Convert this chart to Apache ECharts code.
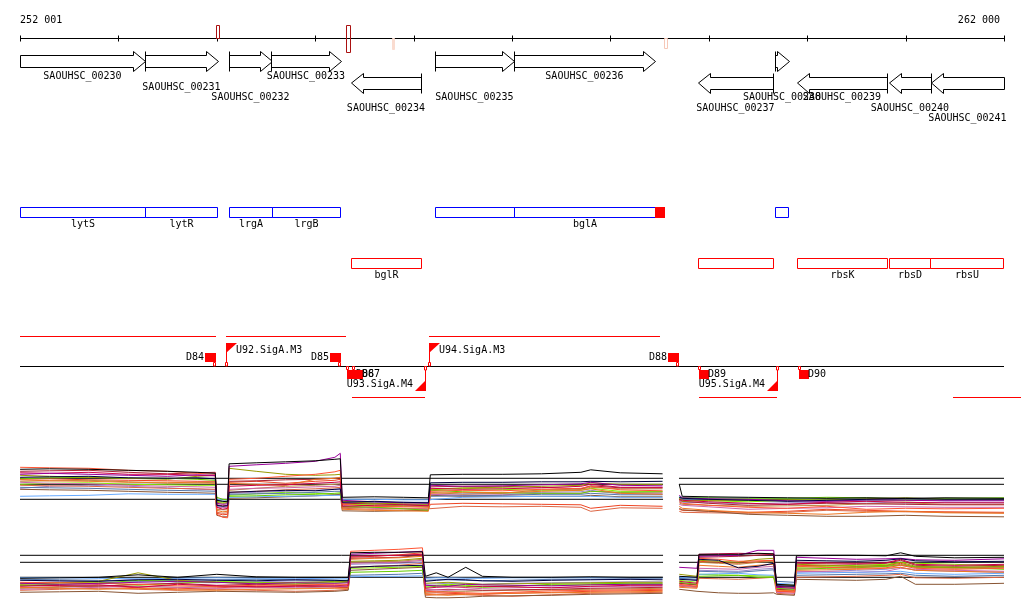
<!DOCTYPE html>
<html><head><meta charset="utf-8">
<script src="https://cdn.jsdelivr.net/npm/echarts@6/dist/echarts.min.js"></script>
<style>html,body{margin:0;padding:0;background:#fff}#c{width:1024px;height:611px}</style>
</head><body><div id="c"></div>
<script>
// ---------------- data ----------------
const viewRange = [252000, 262000];
const rulerTicks = [252000,253000,254000,255000,256000,257000,258000,259000,260000,261000,262000];
const rulerLabels = [[252001,'252 001','left'],[262000,'262 000','right']];
// [start, end, kind]
const siteMarks = [[253992,254019,'above'],[255313,255351,'across'],[255780,255801,'belowFill'],[258545,258572,'below']];
// [name, start, end, strand, labelRow]
const genes = [
  ['SAOUHSC_00230',251800,253270, 1,0],
  ['SAOUHSC_00231',253270,254012, 1,1],
  ['SAOUHSC_00232',254124,254561, 1,2],
  ['SAOUHSC_00233',254551,255262, 1,0],
  ['SAOUHSC_00234',255364,256075,-1,3],
  ['SAOUHSC_00235',256217,257020, 1,2],
  ['SAOUHSC_00236',257020,258453, 1,0],
  ['SAOUHSC_00237',258890,259652,-1,3],
  ['SAOUHSC_00238',259673,259815, 1,2],
  ['SAOUHSC_00239',259896,260811,-1,2],
  ['SAOUHSC_00240',260831,261258,-1,3],
  ['SAOUHSC_00241',261258,262300,-1,4]
];
// [start, end, name]
const blueFeatures = [[252000,253270,'lytS'],[253270,254002,'lytR'],[254124,254561,'lrgA'],[254561,255255,'lrgB'],[256217,257020,''],[257020,258453,'bglA'],[259673,259805,'']];
const blueFilled = [[258453,258545]];
const redFeatures = [[255364,256075,'bglR'],[258890,259652,''],[259896,260811,'rbsK'],[260831,261248,'rbsD'],[261248,261990,'rbsU']];
// transcripts [start, end]
const upperTranscripts = [[252000,253992],[254093,255313],[256156,258504]];
const lowerTranscripts = [[255375,256116],[258900,259693],[261482,262173]];
// [position, strand, name]
const terminators = [[253992,1,'D84'],[255262,1,'D85'],[255323,-1,'D86'],[255384,-1,'D87'],[258702,1,'D88'],[258900,-1,'D89'],[259917,-1,'D90']];
const promoters = [[254093,1,'U92.SigA.M3'],[256116,-1,'U93.SigA.M4'],[256156,1,'U94.SigA.M3'],[259693,-1,'U95.SigA.M4']];

// expression panels
const panelSegments = [[252000,258535],[258697,262000]];
const refLevels1 = [9.2, 8, 5];
const refLevels2 = [9.4, 8, 5];
const exprX1 = [252001,252300,252700,253100,253500,253800,253985, 254000,254060,254110, 254125,254400,254700,255000,255200,255255, 255275,255600,255900,256150, 256170,256500,256900,257300,257700,257800,258100,258530, 258600, 258700,258730,259000,259400,259800,260200,260600,261000,261400,262000];
const exprX2 = [252001,252400,252800,253200,253600,254000,254400,254800,255200,255335, 255360,255600,255850,256090, 256120,256230,256350,256530,256700,257000,257400,257800,258200,258530, 258600, 258700,258880, 258900,259100,259300,259500,259660, 259690,259870, 259890,260200,260500,260800,260950,261100,261500,262000];
const lineColors = ['#000000','#000040','#990099','#cc0044','#ff5533','#ee7722','#999900','#66cc00','#5577aa','#66aaff','#cc66aa','#885533','#dd6644','#aa2233','#bb8844','#88ee00','#9988cc','#ee4422'];
const expr1 = [
 [11.0,11.1,11.0,10.8,10.6,10.4,10.2, 4.8,4.6,4.5, 12.1,12.3,12.5,12.7,13.0,13.1, 5.4,5.5,5.4,5.3, 9.9,10.0,10.0,10.1,10.4,10.9,10.3,10.1, null, 8.0,5.6,5.5,5.4,5.3,5.2,5.3,5.2,5.3,5.2],
 [9.4,9.5,9.6,9.3,9.2,9.3,9.1, 3.8,3.6,3.7, 6.4,6.6,6.8,6.7,7.0,7.1, 4.4,4.6,4.4,4.3, 8.3,8.4,8.4,8.5,8.5,8.6,8.5,8.6, null, 5.4,5.2,5.0,4.8,4.6,4.8,5.0,5.2,5.0,5.0],
 [10.0,10.2,10.0,9.8,9.6,9.9,9.8, 4.2,4.0,4.1, 11.6,11.9,12.2,12.6,13.4,14.2, 4.8,4.5,4.3,4.2, 7.8,7.6,7.7,7.9,8.1,8.4,7.8,7.7, null, 5.8,5.3,5.1,5.0,4.7,4.6,4.9,4.8,4.7,4.7],
 [10.3,10.2,10.4,10.0,10.0,9.8,9.7, 3.4,3.0,3.2, 7.6,7.8,7.9,8.2,8.4,8.5, 3.6,3.8,3.9,3.7, 7.2,7.0,7.1,7.3,7.6,8.0,7.4,7.4, null, 5.0,4.8,4.5,4.2,4.0,4.4,4.6,4.4,4.3,4.3],
 [11.4,11.3,11.2,10.8,10.6,10.2,10.0, 2.0,1.4,1.3, 9.0,9.2,9.6,10.0,10.5,10.8, 4.0,3.6,3.5,3.4, 6.6,6.8,6.7,7.0,7.2,7.6,6.9,6.7, null, 4.5,4.2,3.8,3.4,3.2,3.6,3.0,3.2,3.1,3.2],
 [8.9,8.7,8.6,8.4,8.4,8.3,8.2, 2.8,2.5,2.6, 8.2,8.0,7.8,9.0,9.2,9.4, 3.0,2.8,2.7,2.6, 6.2,6.4,6.3,6.6,6.8,7.1,6.2,6.0, null, 3.6,3.2,2.8,2.4,2.2,2.0,2.4,2.6,2.3,2.2],
 [9.8,9.6,9.4,9.2,9.0,9.6,9.8, 4.4,4.2,4.3, 11.2,10.6,10.0,9.8,9.9,10.0, 4.6,4.2,4.1,4.0, 7.0,7.3,7.4,7.6,7.8,8.3,8.0,8.0, null, 5.2,4.6,4.8,4.8,4.9,4.9,5.1,5.3,5.0,5.0],
 [9.1,9.3,9.4,9.2,9.2,9.0,8.8, 5.4,5.0,4.9, 5.6,5.7,5.9,6.0,6.2,6.3, 3.6,3.4,3.1,2.8, 6.8,6.5,6.3,6.2,6.2,6.6,6.4,6.5, null, 5.4,5.3,5.3,5.2,5.2,5.4,5.3,5.1,5.2,5.3],
 [7.4,7.3,7.2,7.0,6.8,6.7,6.6, 4.8,4.6,4.7, 6.0,6.1,6.2,6.4,6.6,6.6, 4.6,4.3,4.4,4.4, 5.6,5.7,5.8,6.0,6.0,6.2,5.9,5.9, null, 5.3,5.0,4.9,4.9,4.7,4.7,4.8,4.9,4.8,4.8],
 [5.6,5.7,5.8,6.1,6.0,6.0,6.0, 5.0,4.9,4.9, 5.4,5.5,5.6,5.7,5.8,5.8, 5.0,5.0,4.9,4.9, 5.3,5.4,5.5,5.6,5.6,5.6,5.4,5.4, null, 5.6,5.4,5.3,5.3,5.2,5.0,5.1,5.2,5.1,5.1],
 [8.4,8.2,8.1,7.8,7.6,7.5,7.4, 3.4,3.3,3.4, 7.0,7.2,7.3,7.5,7.6,7.8, 3.8,3.2,3.1,3.0, 6.0,5.8,5.9,6.2,6.2,6.6,6.3,6.3, null, 4.0,3.8,3.5,3.0,3.2,3.3,3.6,3.5,3.4,3.4],
 [7.0,6.9,6.8,6.6,6.4,6.3,6.2, 1.8,1.5,1.5, 5.2,5.3,5.5,5.7,5.9,6.0, 2.7,2.6,2.7,2.8, 5.8,5.6,5.6,5.6,5.6,5.8,5.5,5.5, null, 3.2,2.9,2.6,2.0,1.8,1.6,1.6,1.8,1.6,1.5],
 [7.8,7.7,7.6,7.4,7.2,7.1,7.0, 2.4,2.2,2.3, 6.4,6.6,6.9,7.1,7.3,7.4, 3.2,3.0,3.1,3.1, 3.4,3.6,3.5,3.6,3.4,2.6,3.3,3.2, null, 2.6,2.4,2.3,2.2,2.4,2.8,2.6,2.5,2.4,2.3],
 [10.6,10.7,10.8,10.4,10.1,10.3,10.4, 3.9,3.7,3.8, 8.6,8.7,8.9,9.0,9.2,9.3, 4.2,4.1,3.9,3.8, 7.5,7.6,7.6,7.4,7.1,7.7,7.3,7.3, null, 4.8,4.6,4.2,3.8,4.0,4.2,4.1,4.0,3.9,3.9],
 [8.6,8.7,8.8,8.5,8.2,8.3,8.4, 3.0,2.9,2.9, 6.8,7.2,7.6,7.8,8.0,8.1, 3.3,3.5,3.6,3.6, 6.4,6.0,6.2,6.9,7.0,7.4,7.1,7.1, null, 4.3,4.0,3.8,3.6,3.7,3.8,4.1,4.3,4.0,4.0],
 [8.0,8.2,8.3,8.0,7.9,7.8,7.8, 4.6,4.4,4.5, 5.8,6.1,6.4,6.2,6.0,6.1, 4.0,3.9,3.7,3.5, 6.9,7.2,7.0,6.8,6.8,7.2,6.6,6.6, null, 5.0,4.9,4.7,4.5,4.8,5.1,4.9,4.7,4.9,4.9],
 [7.2,7.6,7.8,7.6,7.3,7.0,6.9, 3.6,3.4,3.5, 6.2,6.4,6.6,6.8,7.0,7.0, 4.4,4.2,4.0,3.9, 6.0,6.1,6.2,6.4,6.5,6.8,6.1,6.1, null, 4.6,4.4,4.3,4.1,4.3,4.4,4.5,4.2,4.4,4.3],
 [9.0,9.1,8.9,8.8,8.7,8.6,8.6, 2.2,1.9,2.0, 8.4,8.6,8.2,8.6,8.8,9.0, 3.4,3.3,3.2,3.0, 4.0,4.2,4.1,4.0,3.9,3.2,3.8,3.6, null, 3.0,2.8,2.6,2.4,2.6,3.0,2.8,2.6,2.5,2.4]
];
const expr2 = [
 [4.8,4.9,5.0,5.5,5.0,5.6,5.1,5.0,5.0,5.0, 9.9,10.0,10.0,10.1, 5.2,5.9,5.0,7.0,5.2,5.0,5.0,5.1,5.0,5.0, null, 5.2,5.0, 9.6,9.6,9.6,9.8,9.7, 3.6,3.4, 9.3,9.4,9.4,9.3,9.9,9.2,8.9,9.0],
 [4.4,4.3,4.2,4.5,4.6,4.4,4.3,4.5,4.4,4.3, 7.0,7.2,7.3,7.4, 4.2,4.4,4.6,4.5,4.3,4.2,4.4,4.5,4.6,4.5, null, 4.6,4.4, 8.6,8.4,6.9,7.2,7.8, 3.3,3.2, 8.4,8.3,8.2,8.4,8.7,8.3,8.1,8.2],
 [3.8,3.6,3.8,4.0,4.2,4.0,3.7,3.9,3.8,3.9, 9.6,9.8,10.0,10.2, 3.4,3.3,3.2,3.6,3.5,3.4,3.3,3.5,3.6,3.6, null, 7.0,6.8, 9.2,9.3,9.4,10.4,10.4, 3.0,2.8, 9.0,8.8,8.6,8.7,8.8,8.5,8.4,8.7],
 [3.2,3.4,3.5,3.0,3.6,3.3,3.1,3.2,3.3,3.3, 9.2,9.3,9.4,9.6, 2.8,3.0,3.1,3.0,3.2,3.1,2.9,3.2,3.4,3.4, null, 4.2,3.8, 9.6,9.7,9.8,9.7,9.6, 3.2,3.0, 8.0,7.9,7.8,7.9,8.6,7.6,7.4,7.6],
 [4.0,3.9,3.8,3.6,3.3,3.2,3.4,3.5,3.6,3.6, 10.2,10.4,10.6,10.9, 2.2,2.1,2.0,1.9,1.8,2.0,2.3,2.4,2.5,2.6, null, 3.6,3.2, 8.8,8.6,8.2,8.3,8.4, 2.2,2.0, 7.2,7.0,6.8,6.9,7.4,6.8,6.6,6.8],
 [3.0,2.8,2.6,2.8,2.5,2.4,2.6,2.7,2.8,2.8, 8.6,8.8,8.9,9.2, 1.6,1.5,1.4,1.6,1.7,1.8,1.9,2.0,2.1,2.2, null, 3.0,2.8, 7.4,7.2,7.0,7.4,7.6, 2.4,2.3, 6.4,6.5,6.6,6.8,7.0,6.4,6.2,6.0],
 [3.6,3.9,4.2,5.9,4.4,4.0,3.8,4.0,4.1,4.2, 8.2,8.3,8.4,8.8, 3.8,3.9,4.0,3.8,3.6,3.7,3.8,3.9,4.0,4.0, null, 5.6,5.2, 8.4,8.2,8.0,8.6,8.8, 3.6,3.4, 7.6,7.4,7.2,7.4,8.0,7.2,7.0,7.2],
 [3.4,3.6,3.8,4.4,4.2,4.0,3.8,3.6,4.2,4.4, 6.0,6.1,6.2,6.4, 3.0,3.2,3.4,3.2,3.0,3.2,3.6,3.7,3.8,3.8, null, 4.0,3.6, 5.2,5.3,5.4,5.0,5.0, 2.8,2.6, 6.6,6.8,6.9,7.2,7.4,7.1,7.0,6.6],
 [4.6,4.5,4.4,4.2,4.4,4.5,4.6,4.5,4.4,4.4, 5.4,5.5,5.6,5.8, 4.4,4.5,4.5,4.4,4.3,4.4,4.6,4.6,4.7,4.7, null, 4.8,4.6, 6.2,6.1,6.0,6.3,6.5, 4.2,4.0, 5.4,5.5,5.6,5.7,5.8,5.4,5.2,5.4],
 [4.9,4.9,4.8,4.7,4.8,4.9,4.8,4.8,4.7,4.7, 5.1,5.2,5.2,5.3, 4.8,4.9,4.9,4.8,4.8,4.9,4.9,4.9,4.9,4.9, null, 5.0,4.9, 5.6,5.7,5.8,5.5,5.4, 3.8,3.6, 5.8,5.9,6.0,6.1,6.2,5.8,5.6,5.8],
 [2.6,2.8,3.0,3.2,3.0,2.8,2.9,3.0,3.1,3.2, 7.8,7.9,8.0,8.4, 2.6,2.5,2.4,2.6,2.8,2.9,3.0,3.1,3.2,3.2, null, 3.4,3.0, 6.8,6.7,6.6,7.0,7.2, 2.0,1.8, 6.2,6.1,6.0,6.2,6.8,6.6,6.4,6.2],
 [2.0,2.1,2.2,1.8,2.0,2.2,2.1,2.0,2.2,2.4, 6.4,6.6,6.8,7.0, 1.0,0.9,0.9,1.0,1.2,1.3,1.4,1.6,1.7,1.8, null, 2.6,2.2, 2.0,1.9,1.8,1.8,1.9, 1.6,1.4, 4.6,4.5,4.4,4.6,5.2,3.6,3.6,3.8],
 [2.4,2.6,2.8,2.6,2.4,2.6,2.4,2.2,2.4,2.6, 7.0,7.2,7.4,7.8, 1.4,1.5,1.6,1.5,1.4,1.2,1.5,1.8,1.9,2.0, null, 3.2,3.0, 4.8,4.7,4.6,4.8,5.0, 1.8,1.6, 5.0,5.1,5.2,5.4,5.6,4.9,4.8,5.0],
 [3.4,3.3,3.2,3.6,3.8,3.4,3.6,3.4,3.2,3.0, 8.8,8.9,9.0,9.4, 2.4,2.5,2.6,2.5,2.4,2.5,2.6,2.8,2.9,3.0, null, 3.8,3.5, 9.0,9.1,9.2,9.4,9.6, 2.6,2.4, 7.8,7.7,7.6,7.8,8.4,7.4,7.2,7.4],
 [2.8,3.0,3.4,3.2,3.0,3.2,3.0,2.8,3.2,3.6, 8.0,8.1,8.2,8.6, 2.0,2.1,2.2,2.2,2.3,2.4,2.5,2.6,2.7,2.8, null, 3.8,3.4, 8.0,7.8,7.6,8.0,8.2, 2.6,2.4, 6.8,6.9,7.0,7.2,7.6,7.0,6.8,7.0],
 [3.8,3.9,4.0,3.4,3.8,4.2,4.0,3.8,3.9,4.0, 6.8,6.9,7.0,7.2, 3.2,3.4,3.6,3.4,3.2,3.3,3.4,3.5,3.6,3.6, null, 4.4,4.0, 5.6,5.5,5.4,5.3,5.2, 3.0,2.8, 7.0,7.2,7.4,7.6,8.0,7.8,7.6,7.2],
 [3.9,4.1,4.2,4.6,4.0,3.9,4.1,4.3,4.2,4.0, 7.6,7.7,7.8,8.0, 3.6,3.7,3.8,3.7,3.6,3.8,3.9,4.0,4.1,4.1, null, 4.8,4.4, 6.4,6.3,6.2,6.6,6.8, 3.4,3.2, 6.0,6.2,6.4,6.6,7.0,6.4,6.2,6.0],
 [2.9,3.1,3.3,2.9,2.7,2.9,3.2,3.3,3.0,2.9, 9.0,9.2,9.5,9.9, 1.8,1.9,1.8,1.7,1.6,1.8,2.0,2.2,2.3,2.4, null, 3.4,3.1, 8.2,8.0,7.8,8.1,8.4, 2.2,2.1, 7.4,7.3,7.2,7.3,7.8,7.0,6.9,7.0]
];

// ---------------- layout & style ----------------
const FONT = '10px "DejaVu Sans Mono", monospace';
const RED = '#ff0000', BLUE = '#0000ff';
const LAY = {
  rulerY: 38.5, rulerLabelY: 20.5,
  fwdY: 61.5, revY: 83, bodyH: 6.5, headH: 10.5, headLen: 12, geneLabelY0: 76.5, geneLabelStep: 10.5,
  blueY: 207.5, redY: 258.5, boxH: 10, blueLabelY: 224.5, redLabelY: 275.5,
  upperTxY: 336.5, baseY: 366.5, lowerTxY: 397.5
};
const markStyle = {
  above: {y0: 25.5, y1: 38.5, stroke: '#aa1111', fill: '#fff'},
  across: {y0: 25.5, y1: 52.5, stroke: '#aa1111', fill: 'rgba(0,0,0,0)'},
  belowFill: {y0: 38.5, y1: 49.5, stroke: '#fadcd0', fill: '#fadcd0'},
  below: {y0: 38.5, y1: 48.5, stroke: '#f6c8b8', fill: '#fff'}
};
const cr = v => Math.round(v) + 0.5;
function xc(api, bp){ return api.coord([bp, 0])[0]; }
function txt(t, x, y, align){ return {type:'text', style:{text:t, x:x, y:y, font:FONT, fill:'#000', align:align||'center', verticalAlign:'middle'}}; }
function ln(x1,y1,x2,y2,c){ return {type:'line', shape:{x1:x1,y1:y1,x2:x2,y2:y2}, style:{stroke:c||'#000', lineWidth:1}}; }

function renderRuler(params, api){
  const ch = [];
  const x0 = cr(xc(api, viewRange[0])), x1 = cr(xc(api, viewRange[1]));
  ch.push(ln(x0, LAY.rulerY, x1, LAY.rulerY));
  rulerTicks.forEach(t => { const x = Math.min(cr(xc(api,t)), x1); ch.push(ln(x, 35.5, x, 41.5)); });
  rulerLabels.forEach(l => { const x = xc(api, l[0]); ch.push(txt(l[1], l[2]==='left' ? x : x-4, LAY.rulerLabelY, l[2])); });
  return {type:'group', children: ch};
}
function renderMark(params, api){
  const m = siteMarks[params.dataIndex], s = markStyle[m[2]];
  const x0 = cr(xc(api, m[0])), x1 = cr(xc(api, m[1]));
  return {type:'rect', z2: 5, shape:{x:x0, y:s.y0, width:Math.max(1, x1-x0), height:s.y1-s.y0}, style:{fill:s.fill, stroke:s.stroke, lineWidth:1}};
}
function renderGene(params, api){
  const g = genes[params.dataIndex];
  const s = Math.max(g[1], viewRange[0]), e = Math.min(g[2], viewRange[1]);
  const x0 = cr(xc(api, s)), x1 = cr(xc(api, e));
  const fwd = g[3] > 0, yc = fwd ? LAY.fwdY : LAY.revY;
  const bt = Math.round(yc - LAY.bodyH) + 0.5, bb = Math.round(yc + LAY.bodyH) - 0.5;
  const ht = Math.round(yc - LAY.headH) + 0.5, hb = Math.round(yc + LAY.headH) - 0.5;
  const ch = [];
  let pts;
  if (fwd) {
    const xh = Math.max(x0, x1 - LAY.headLen);
    pts = [[x0,bt],[xh,bt],[xh,ht],[x1,yc],[xh,hb],[xh,bb],[x0,bb]];
  } else {
    const xh = Math.min(x1, x0 + LAY.headLen);
    pts = [[x1,bt],[xh,bt],[xh,ht],[x0,yc],[xh,hb],[xh,bb],[x1,bb]];
  }
  ch.push({type:'polygon', shape:{points:pts}, style:{fill:'#fff', stroke:'#000', lineWidth:1}});
  if (fwd && g[1] >= viewRange[0]) ch.push(ln(x0, ht, x0, hb));
  if (!fwd && g[2] <= viewRange[1]) ch.push(ln(x1, ht, x1, hb));
  ch.push(txt(g[0], (xc(api,s)+xc(api,e))/2, LAY.geneLabelY0 + g[4]*LAY.geneLabelStep, 'center'));
  return {type:'group', children: ch};
}
function boxRenderer(list, y, labelY, color){
  return function(params, api){
    const f = list[params.dataIndex];
    const x0 = cr(xc(api, f[0])), x1 = cr(xc(api, f[1]));
    const ch = [{type:'rect', shape:{x:x0, y:y, width:x1-x0, height:LAY.boxH}, style:{fill:'rgba(0,0,0,0)', stroke:color, lineWidth:1}}];
    if (f[2]) ch.push(txt(f[2], (x0+x1)/2, labelY, 'center'));
    return {type:'group', children: ch};
  };
}
function renderFilled(params, api){
  const f = blueFilled[params.dataIndex];
  const x0 = Math.round(xc(api, f[0])), x1 = Math.round(xc(api, f[1]));
  return {type:'rect', shape:{x:x0, y:LAY.blueY-0.5, width:x1-x0+1, height:LAY.boxH+1}, style:{fill:RED}};
}
function txRenderer(list, y){
  return function(params, api){
    const t = list[params.dataIndex];
    return ln(Math.round(xc(api,t[0])), y, Math.round(xc(api,t[1])), y, RED);
  };
}
function renderBase(params, api){
  return ln(Math.round(xc(api,viewRange[0])), LAY.baseY, Math.round(xc(api,viewRange[1])), LAY.baseY, '#000');
}
function renderTerm(params, api){
  const t = terminators[params.dataIndex];
  const x = Math.round(xc(api, t[0]));
  if (t[1] > 0) {
    return {type:'group', children:[
      {type:'rect', shape:{x:x-11, y:353, width:11, height:9}, style:{fill:RED}},
      {type:'rect', shape:{x:x-2.5, y:362.5, width:2, height:3.5}, style:{fill:'#fff', stroke:RED, lineWidth:1}},
      txt(t[2], x-12, 357.5, 'right')
    ]};
  }
  return {type:'group', children:[
    {type:'rect', shape:{x:x-0.5, y:366.5, width:2, height:3}, style:{fill:'#fff', stroke:RED, lineWidth:1}},
    {type:'rect', shape:{x:x, y:370, width:10, height:9}, style:{fill:RED}},
    txt(t[2], x+9, 374.5, 'left')
  ]};
}
function renderProm(params, api){
  const p = promoters[params.dataIndex];
  const x = Math.round(xc(api, p[0]));
  if (p[1] > 0) {
    return {type:'group', children:[
      ln(x+0.5, 343, x+0.5, 366, RED),
      {type:'polygon', shape:{points:[[x,343],[x+11,343],[x,353]]}, style:{fill:RED}},
      {type:'rect', shape:{x:x-0.5, y:362.5, width:2, height:3.5}, style:{fill:'#fff', stroke:RED, lineWidth:1}},
      txt(p[2], x+10, 350.5, 'left')
    ]};
  }
  return {type:'group', children:[
    ln(x+0.5, 367, x+0.5, 391, RED),
    {type:'polygon', shape:{points:[[x+1,391],[x-10,391],[x+1,380]]}, style:{fill:RED}},
    {type:'rect', shape:{x:x-0.5, y:366.5, width:2, height:3.5}, style:{fill:'#fff', stroke:RED, lineWidth:1}},
    txt(p[2], x-12, 384, 'right')
  ]};
}

// ---------------- build option ----------------
function custom(name, data, fn){
  return {type:'custom', name:name, xAxisIndex:0, yAxisIndex:0, data:data, renderItem:fn, clip:false, silent:true, animation:false, encode:{x:0, y:1}};
}
const series = [
  custom('ruler', [[viewRange[0], 0]], renderRuler),
  custom('genes', genes.map(g => [g[1], 0]), renderGene),
  custom('marks', siteMarks.map(m => [m[0], 0]), renderMark),
  custom('blue', blueFeatures.map(f => [f[0], 0]), boxRenderer(blueFeatures, LAY.blueY, LAY.blueLabelY, BLUE)),
  custom('blueFill', blueFilled.map(f => [f[0], 0]), renderFilled),
  custom('red', redFeatures.map(f => [f[0], 0]), boxRenderer(redFeatures, LAY.redY, LAY.redLabelY, RED)),
  custom('upperTx', upperTranscripts.map(t => [t[0], 0]), txRenderer(upperTranscripts, LAY.upperTxY)),
  custom('lowerTx', lowerTranscripts.map(t => [t[0], 0]), txRenderer(lowerTranscripts, LAY.lowerTxY)),
  custom('base', [[viewRange[0], 0]], renderBase),
  custom('promoters', promoters.map(p => [p[0], 0]), renderProm),
  custom('terminators', terminators.map(t => [t[0], 0]), renderTerm)
];
function refSeries(levels, axis){
  return levels.map(l => ({
    type:'line', xAxisIndex:axis, yAxisIndex:axis, symbol:'none', silent:true, animation:false,
    lineStyle:{color:'#000', width:1}, z:2,
    data:[[panelSegments[0][0], l],[panelSegments[0][1], l],[(panelSegments[0][1]+panelSegments[1][0])/2, '-'],[panelSegments[1][0], l],[panelSegments[1][1], l]]
  }));
}
function exprSeries(xs, lines, axis){
  const order = lines.map((_, i) => i).reverse();
  return order.map(i => ({
    type:'line', xAxisIndex:axis, yAxisIndex:axis, symbol:'none', silent:true, animation:false, z:3,
    lineStyle:{color:lineColors[i], width:1},
    data: xs.map((x, j) => [x, lines[i][j] === null ? '-' : lines[i][j]])
  }));
}
series.push(...refSeries(refLevels1, 1), ...exprSeries(exprX1, expr1, 1));
series.push(...refSeries(refLevels2, 2), ...exprSeries(exprX2, expr2, 2));

const xAx = i => ({type:'value', gridIndex:i, min:viewRange[0], max:viewRange[1], show:false});
const option = {
  backgroundColor:'#fff',
  animation:false,
  grid:[
    {left:20, right:20, top:0, height:611},
    {left:20, right:20, top:449.3, height:75},
    {left:20, right:20, top:542.3, height:60}
  ],
  xAxis:[xAx(0), xAx(1), xAx(2)],
  yAxis:[
    {type:'value', gridIndex:0, min:0, max:611, inverse:true, show:false},
    {type:'value', gridIndex:1, min:0, max:15, show:false},
    {type:'value', gridIndex:2, min:0, max:12, show:false}
  ],
  series: series
};
const chart = echarts.init(document.getElementById('c'));
chart.setOption(option);
</script></body></html>
